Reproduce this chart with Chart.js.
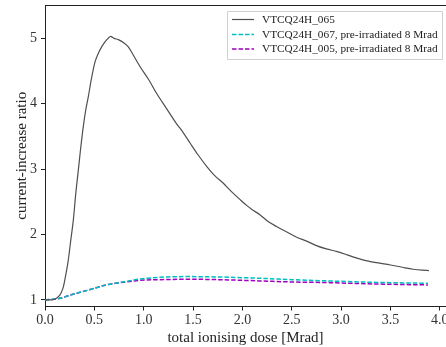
<!DOCTYPE html>
<html>
<head>
<meta charset="utf-8">
<script src="https://cdn.jsdelivr.net/npm/chart.js@4.4.1/dist/chart.umd.min.js"></script>
<style>
  html, body { margin: 0; padding: 0; background: #fff; }
  #wrap { width: 446px; height: 347px; }
</style>
</head>
<body>
<div id="wrap"><canvas id="myChart" width="446" height="347"></canvas></div>
<script>
// dados
var dose065 = [0.00, 0.05, 0.10, 0.135, 0.16, 0.186, 0.21, 0.236, 0.26, 0.287, 0.31, 0.338, 0.36, 0.388, 0.41, 0.439, 0.47, 0.507, 0.54, 0.574, 0.61, 0.64, 0.665, 0.70, 0.743, 0.80, 0.844, 0.90, 0.962, 1.05, 1.13, 1.23, 1.33, 1.40, 1.47, 1.55, 1.64, 1.72, 1.81, 1.874, 1.98, 2.04, 2.10, 2.18, 2.26, 2.35, 2.45, 2.55, 2.65, 2.75, 2.85, 2.96, 3.10, 3.23, 3.36, 3.50, 3.62, 3.73, 3.82, 3.89];
var ratio065 = [1.00, 1.00, 1.01, 1.05, 1.10, 1.20, 1.38, 1.61, 1.90, 2.22, 2.60, 2.99, 3.30, 3.65, 3.88, 4.11, 4.38, 4.64, 4.77, 4.87, 4.95, 5.00, 5.03, 5.00, 4.98, 4.93, 4.87, 4.73, 4.57, 4.37, 4.16, 3.93, 3.70, 3.56, 3.40, 3.22, 3.04, 2.90, 2.78, 2.68, 2.53, 2.45, 2.38, 2.30, 2.20, 2.12, 2.04, 1.96, 1.90, 1.83, 1.78, 1.74, 1.67, 1.61, 1.57, 1.535, 1.50, 1.47, 1.455, 1.45];

var dosePre = [0.00, 0.15, 0.29, 0.46, 0.62, 0.79, 0.96, 1.15, 1.40, 1.60, 1.87, 2.20, 2.50, 2.89, 3.20, 3.50, 3.88];
var ratio067 = [1.00, 1.025, 1.09, 1.16, 1.23, 1.275, 1.32, 1.345, 1.357, 1.356, 1.347, 1.33, 1.31, 1.29, 1.275, 1.265, 1.255];
var ratio005 = [1.00, 1.025, 1.09, 1.16, 1.23, 1.27, 1.30, 1.31, 1.316, 1.315, 1.306, 1.29, 1.275, 1.265, 1.25, 1.24, 1.23];

var labels = ['VTCQ24H_065', 'VTCQ24H_067, pre-irradiated 8 Mrad', 'VTCQ24H_005, pre-irradiated 8 Mrad'];
var xTicks = [0.0, 0.5, 1.0, 1.5, 2.0, 2.5, 3.0, 3.5, 4.0];
var yTicks = [1, 2, 3, 4, 5];

function pts(xs, ys) {
    return xs.map(function (x, i) { return { x: x, y: ys[i] }; });
}

var serif = "'Liberation Serif', 'DejaVu Serif', serif";

// moldura superior + legenda desenhada à mão
var framePlugin = {
    id: 'frame',
    afterDraw: function (chart) {
        var c = chart.ctx, a = chart.chartArea;
        c.save();
        c.strokeStyle = '#222';
        c.lineWidth = 1;
        c.beginPath();
        c.moveTo(a.left, a.top + 0.5);
        c.lineTo(a.right, a.top + 0.5);
        c.stroke();

        // caixa da legenda
        var bx = 227.5, by = 11.5, bw = 215, bh = 48;
        c.fillStyle = 'rgba(255,255,255,0.85)';
        c.strokeStyle = '#d0d0d0';
        c.beginPath();
        c.rect(bx, by, bw, bh);
        c.fill();
        c.stroke();

        var rows = [19.5, 34.5, 49];
        chart.data.datasets.forEach(function (ds, i) {
            c.strokeStyle = ds.borderColor;
            c.lineWidth = ds.borderWidth;
            c.setLineDash(ds.borderDash || []);
            c.beginPath();
            c.moveTo(232, rows[i]);
            c.lineTo(254, rows[i]);
            c.stroke();
            c.setLineDash([]);
            c.fillStyle = '#222';
            c.font = '11.3px ' + serif;
            c.textBaseline = 'middle';
            c.fillText(ds.label, 262, rows[i] + 0.5);
        });
        c.restore();
    }
};

var ctx = document.getElementById('myChart').getContext('2d');

var myChart = new Chart(ctx, {
    type: 'line',
    data: {
        datasets: [{
            label: labels[0],
            data: pts(dose065, ratio065),
            borderColor: '#4f4f4f',
            borderWidth: 1.2,
            pointRadius: 0,
            cubicInterpolationMode: 'monotone'
        }, {
            label: labels[1],
            data: pts(dosePre, ratio067),
            borderColor: '#00bfbf',
            borderWidth: 1.5,
            borderDash: [4.5, 2],
            pointRadius: 0,
            cubicInterpolationMode: 'monotone'
        }, {
            label: labels[2],
            data: pts(dosePre, ratio005),
            borderColor: '#a000bf',
            borderWidth: 1.5,
            borderDash: [4.5, 2],
            pointRadius: 0,
            cubicInterpolationMode: 'monotone'
        }]
    },
    options: {
        responsive: false,
        animation: false,
        layout: { padding: { top: 5, right: 0, left: 0, bottom: 0 } },
        plugins: {
            legend: { display: false },
            tooltip: { enabled: false }
        },
        scales: {
            x: {
                type: 'linear',
                min: 0,
                max: 4.063,
                afterBuildTicks: function (s) { s.ticks = xTicks.map(function (v) { return { value: v }; }); },
                afterFit: function (s) { s.height = 40.5; s.paddingLeft = 0; s.paddingRight = 0; },
                grid: { display: true, drawOnChartArea: false, drawTicks: true, tickLength: 4, color: '#222' },
                border: { display: true, color: '#222', width: 1 },
                ticks: {
                    color: '#333',
                    font: { family: serif, size: 14 },
                    padding: 1,
                    maxRotation: 0,
                    autoSkip: false,
                    callback: function (v) { return Number(v).toFixed(1); }
                },
                title: {
                    display: true,
                    text: 'total ionising dose [Mrad]',
                    color: '#222',
                    font: { family: serif, size: 15 },
                    padding: { top: 0, bottom: 0 }
                }
            },
            y: {
                min: 0.9,
                max: 5.51,
                afterBuildTicks: function (s) { s.ticks = yTicks.map(function (v) { return { value: v }; }); },
                afterFit: function (s) { s.width = 45; s.paddingTop = 0; s.paddingBottom = 0; },
                grid: { display: true, drawOnChartArea: false, drawTicks: true, tickLength: 4, color: '#222' },
                border: { display: true, color: '#222', width: 1 },
                ticks: {
                    color: '#333',
                    font: { family: serif, size: 14 },
                    padding: 4
                },
                title: {
                    display: true,
                    text: 'current-increase ratio',
                    color: '#222',
                    font: { family: serif, size: 15 },
                    padding: { top: 13, bottom: 0 }
                }
            }
        }
    },
    plugins: [framePlugin]
});
</script>
</body>
</html>
